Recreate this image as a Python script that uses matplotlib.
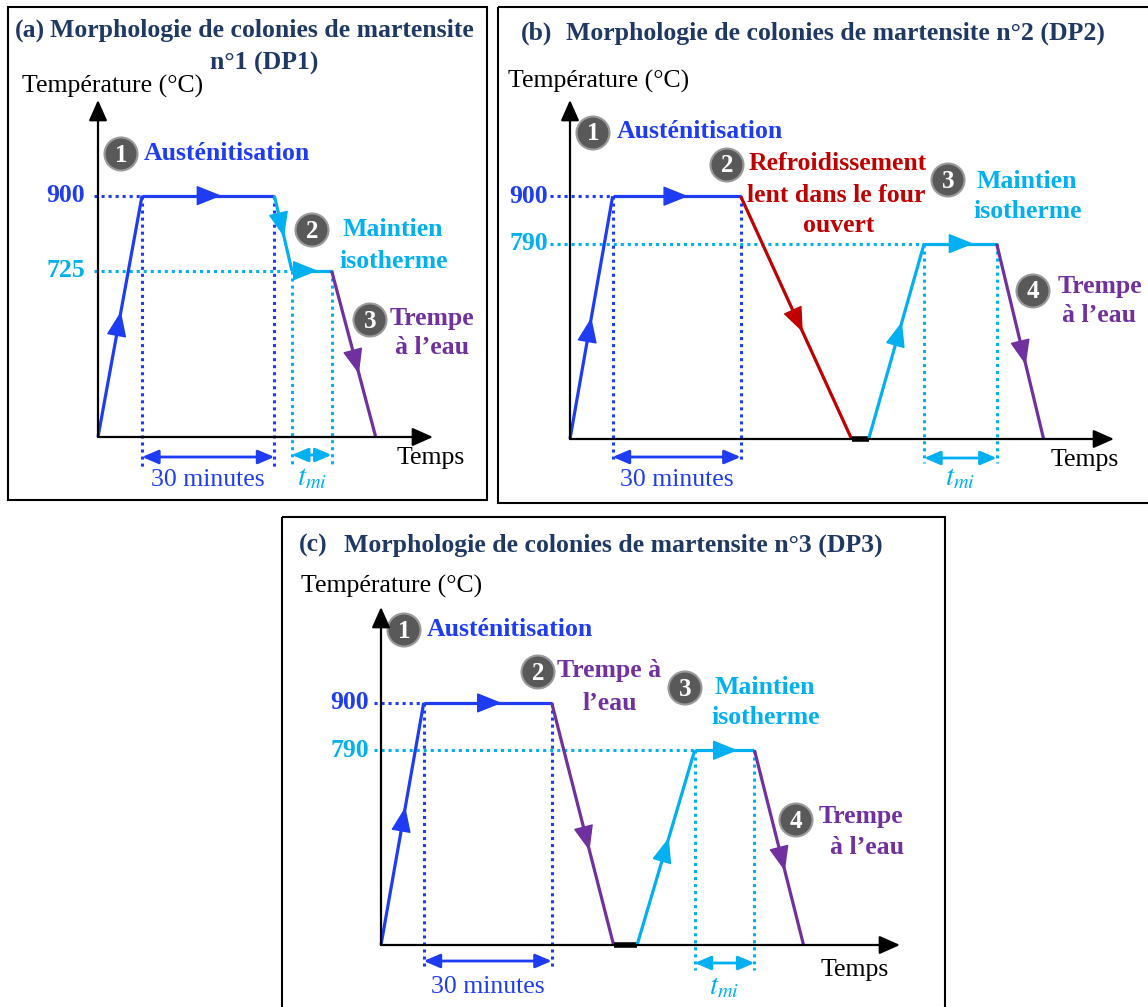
import numpy as np
import matplotlib
matplotlib.use("Agg")
import matplotlib.pyplot as plt
from matplotlib.patches import Rectangle, Circle

plt.rcParams['font.family'] = ['Liberation Serif', 'DejaVu Serif']
plt.rcParams['mathtext.fontset'] = 'stix'

W, H = 1148, 1007

NAVY = '#1f3864'
BLUE = '#1f3cf5'
CYAN = '#00b0f0'
PURPLE = '#7030a0'
RED = '#c00000'

# heat treatment cycles: schematic time (min) and temperature (°C)
T_AMB = 20
T_TOP = 1123

t_dp1 = [0, 10, 40, 44, 53, 63]
T_dp1 = [T_AMB, 900, 900, 725, 725, T_AMB]
c_dp1 = [BLUE, BLUE, CYAN, CYAN, PURPLE]
f_dp1 = [0.52, 0.6, 0.55, 0.65, 0.62]      # where the arrow heads sit on each segment

t_dp2 = [0, 10, 40, 66, 70, 83, 100, 111]
T_dp2 = [T_AMB, 900, 900, T_AMB, T_AMB, 790, 790, T_AMB]
c_dp2 = [BLUE, BLUE, RED, 'black', CYAN, CYAN, PURPLE]
f_dp2 = [0.5, 0.59, 0.56, None, 0.6, 0.68, 0.62]

t_dp3 = [0, 10, 40, 54.5, 60, 73.5, 87.5, 99]
T_dp3 = [T_AMB, 900, 900, T_AMB, T_AMB, 790, 790, T_AMB]
c_dp3 = [BLUE, BLUE, PURPLE, 'black', CYAN, CYAN, PURPLE]
f_dp3 = [0.57, 0.61, 0.61, None, 0.55, 0.72, 0.62]


# not drawn to scale: the range below ~400 °C is squeezed
def fwd(T):
    return np.interp(T, [20, 400, 1200], [0, 27, 371])


def inv(h):
    return np.interp(h, [0, 27, 371], [20, 400, 1200])


def yfrac(T):
    return (fwd(T) - fwd(T_AMB)) / (fwd(T_TOP) - fwd(T_AMB))


fig = plt.figure(figsize=(W / 100, H / 100), dpi=100)

deco = fig.add_axes([0, 0, 1, 1])
deco.set_xlim(0, W)
deco.set_ylim(H, 0)
deco.axis('off')

# frames
for (x, y, w, h) in [(8, 7, 479, 493), (498, 7, 660, 496), (282, 517, 663, 500)]:
    deco.add_patch(Rectangle((x, y), w, h, fill=False, ec='black', lw=1.5))

BOLD = dict(fontsize=18.5, fontweight='bold')
REG = dict(fontsize=18.5)


def bubble(x, y, n):
    deco.add_patch(Circle((x, y), 16.5, fc='#595959', ec='#9a9a9a', lw=1.5))
    deco.text(x, y + 1, str(n), color='white', ha='center', va='center', fontsize=18, fontweight='bold')


def panel(x0, y0, x1, y1, tmax, t, T, cols, fracs, lab_off, guide_off, dy_arrow, dy_text, dy_bottom):
    ax = fig.add_axes([x0 / W, 1 - y0 / H, (x1 - x0) / W, (y0 - y1) / H])
    ax.set_yscale('function', functions=(fwd, inv))
    ax.set_xlim(0, tmax)
    ax.set_ylim(T_AMB, T_TOP)
    ax.axis('off')
    hpx = y0 - y1
    wpx = x1 - x0

    # axes arrows
    for tip in [(1, 0), (0, 1)]:
        ax.annotate('', xy=tip, xytext=(0, 0), xycoords='axes fraction',
                    arrowprops=dict(arrowstyle='-|>,head_length=0.9,head_width=0.4', color='black',
                                    lw=1.6, shrinkA=0, shrinkB=0, mutation_scale=14))

    # dotted guides: levels and holding periods
    holds = [i for i in range(len(t) - 1) if T[i] == T[i + 1] and T[i] > T_AMB]
    for k, i in enumerate(holds):
        col = cols[i]
        lev = T[i]
        ax.plot([-guide_off / wpx, t[i] / tmax], [lev, lev], transform=ax.get_yaxis_transform(),
                color=col, lw=2.2, ls=(0, (1, 1.3)), clip_on=False)
        ax.annotate(f'{lev:g}', xy=(0, lev), xycoords=('axes fraction', 'data'),
                    xytext=(-lab_off, 0), textcoords='offset pixels', ha='right', va='center',
                    color=col, **BOLD)
        for tt in (t[i], t[i + 1]):
            ax.plot([tt, tt], [yfrac(lev), -dy_bottom / hpx], transform=ax.get_xaxis_transform(),
                    color=col, lw=2.2, ls=(0, (1, 1.3)), clip_on=False)
        ax.annotate('', xy=(t[i + 1], -dy_arrow[k] / hpx), xytext=(t[i], -dy_arrow[k] / hpx),
                    xycoords=ax.get_xaxis_transform(),
                    arrowprops=dict(arrowstyle='<|-|>,head_length=0.7,head_width=0.3', color=col,
                                    lw=2, shrinkA=0, shrinkB=0, mutation_scale=14))
        label = '30 minutes' if k == 0 else '$t_{mi}$'
        size = 18.5 if k == 0 else 21
        ax.text((t[i] + t[i + 1]) / 2, -dy_text[k] / hpx, label, transform=ax.get_xaxis_transform(),
                ha='center', va='center', color=col, fontsize=size)

    # the cycle itself
    for i, col in enumerate(cols):
        lw = 4 if col == 'black' else 2.3
        ax.plot(t[i:i + 2], T[i:i + 2], color=col, lw=lw, solid_capstyle='butt', clip_on=False)
        f = fracs[i]
        if f is None:
            continue
        d0 = ax.transData.transform((t[i], T[i]))
        d1 = ax.transData.transform((t[i + 1], T[i + 1]))
        tip = d0 + f * (d1 - d0)
        u = (d1 - d0) / np.hypot(*(d1 - d0))
        ax.annotate('', xy=tip, xytext=tip - 8 * u, xycoords='figure pixels',
                    arrowprops=dict(arrowstyle='-|>,head_length=0.8,head_width=0.32', color=col,
                                    lw=1, shrinkA=0, shrinkB=0, mutation_scale=20))
    return ax


panel(98, 437, 433, 100, 76, t_dp1, T_dp1, c_dp1, f_dp1, 13, 4,
      [20, 18], [43, 41], 30)
panel(570, 439, 1114, 100, 127.5, t_dp2, T_dp2, c_dp2, f_dp2, 22, 20,
      [18, 19], [41, 39], 24)
panel(381, 945, 900, 607, 121.6, t_dp3, T_dp3, c_dp3, f_dp3, 12, 7,
      [16, 18], [42, 42], 25)

# panel (a) texts
deco.text(15, 31, '(a)', color=NAVY, ha='left', va='center', **BOLD)
deco.text(50, 31, 'Morphologie de colonies de martensite', color=NAVY, ha='left', va='center', **BOLD)
deco.text(264, 63, 'n°1 (DP1)', color=NAVY, ha='center', va='center', **BOLD)
deco.text(22, 86, 'Température (°C)', ha='left', va='center', **REG)
bubble(121, 154, 1)
deco.text(144, 153, 'Austénitisation', color=BLUE, ha='left', va='center', **BOLD)
bubble(312, 230, 2)
deco.text(393, 230, 'Maintien', color=CYAN, ha='center', va='center', **BOLD)
deco.text(394, 262, 'isotherme', color=CYAN, ha='center', va='center', **BOLD)
bubble(370, 320, 3)
deco.text(432, 318, 'Trempe', color=PURPLE, ha='center', va='center', **BOLD)
deco.text(432, 348, 'à l’eau', color=PURPLE, ha='center', va='center', **BOLD)
deco.text(431, 458, 'Temps', ha='center', va='center', **REG)

# panel (b) texts
deco.text(521, 33, '(b)', color=NAVY, ha='left', va='center', **BOLD)
deco.text(566, 33, 'Morphologie de colonies de martensite n°2 (DP2)', color=NAVY, ha='left', va='center', **BOLD)
deco.text(508, 81, 'Température (°C)', ha='left', va='center', **REG)
bubble(593, 133, 1)
deco.text(617, 132, 'Austénitisation', color=BLUE, ha='left', va='center', **BOLD)
bubble(727, 165, 2)
deco.text(838, 164, 'Refroidissement', color=RED, ha='center', va='center', **BOLD)
deco.text(836, 196, 'lent dans le four', color=RED, ha='center', va='center', **BOLD)
deco.text(839, 226, 'ouvert', color=RED, ha='center', va='center', **BOLD)
bubble(948, 180, 3)
deco.text(1027, 181, 'Maintien', color=CYAN, ha='center', va='center', **BOLD)
deco.text(1028, 212, 'isotherme', color=CYAN, ha='center', va='center', **BOLD)
bubble(1033, 291, 4)
deco.text(1100, 286, 'Trempe', color=PURPLE, ha='center', va='center', **BOLD)
deco.text(1099, 315, 'à l’eau', color=PURPLE, ha='center', va='center', **BOLD)
deco.text(1085, 460, 'Temps', ha='center', va='center', **REG)

# panel (c) texts
deco.text(299, 545, '(c)', color=NAVY, ha='left', va='center', **BOLD)
deco.text(344, 545, 'Morphologie de colonies de martensite n°3 (DP3)', color=NAVY, ha='left', va='center', **BOLD)
deco.text(301, 586, 'Température (°C)', ha='left', va='center', **REG)
bubble(404, 630, 1)
deco.text(427, 629, 'Austénitisation', color=BLUE, ha='left', va='center', **BOLD)
bubble(538, 672, 2)
deco.text(557, 671, 'Trempe à', color=PURPLE, ha='left', va='center', **BOLD)
deco.text(610, 704, 'l’eau', color=PURPLE, ha='center', va='center', **BOLD)
bubble(685, 688, 3)
deco.text(765, 687, 'Maintien', color=CYAN, ha='center', va='center', **BOLD)
deco.text(766, 717, 'isotherme', color=CYAN, ha='center', va='center', **BOLD)
bubble(796, 820, 4)
deco.text(861, 817, 'Trempe', color=PURPLE, ha='center', va='center', **BOLD)
deco.text(867, 848, 'à l’eau', color=PURPLE, ha='center', va='center', **BOLD)
deco.text(855, 970, 'Temps', ha='center', va='center', **REG)

fig.savefig('out.png', dpi=100)
